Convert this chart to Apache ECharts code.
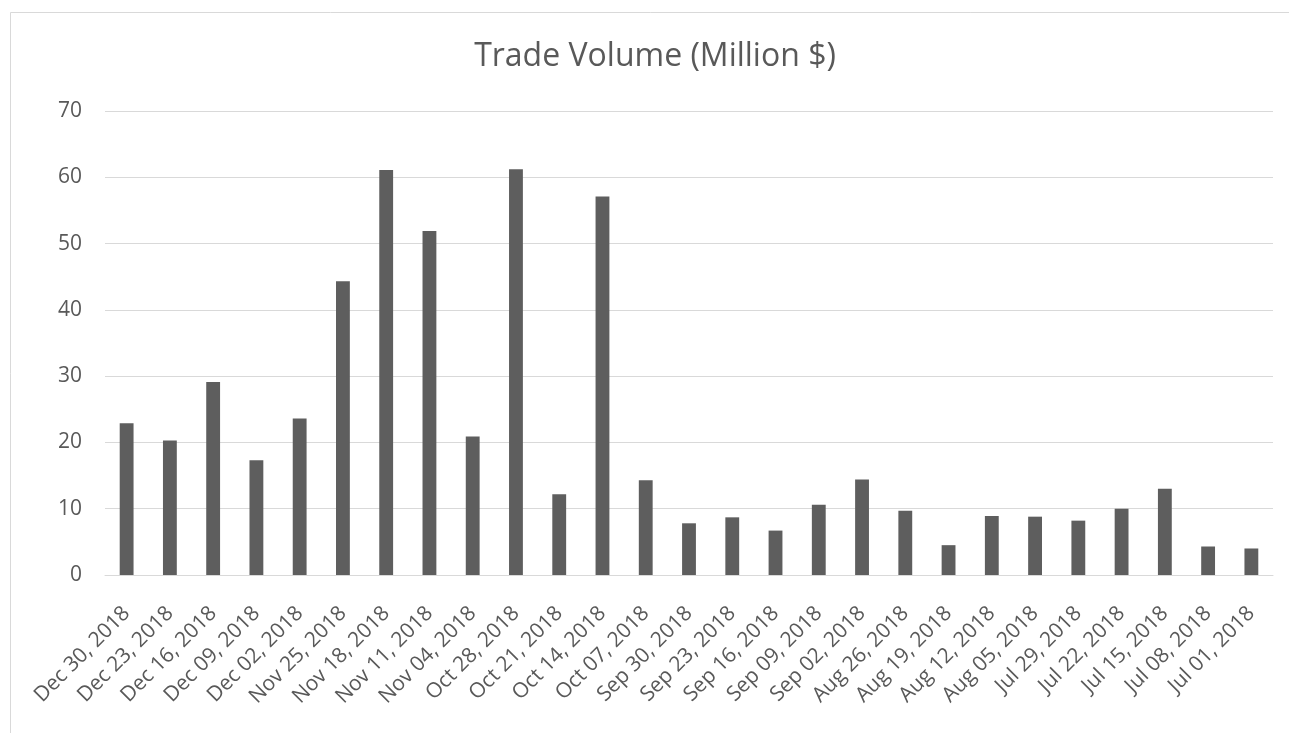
<!DOCTYPE html>
<html>
<head>
<meta charset="utf-8">
<script src="https://cdn.jsdelivr.net/npm/echarts@6/dist/echarts.min.js"></script>
<style>
html,body{margin:0;padding:0;background:#fff;}
#chart{width:1289px;height:733px;}
</style>
</head>
<body>
<div id="chart"></div>
<script>
const chartTitle = 'Trade Volume (Million $)';
const categories = ['Dec 30, 2018','Dec 23, 2018','Dec 16, 2018','Dec 09, 2018','Dec 02, 2018','Nov 25, 2018','Nov 18, 2018','Nov 11, 2018','Nov 04, 2018','Oct 28, 2018','Oct 21, 2018','Oct 14, 2018','Oct 07, 2018','Sep 30, 2018','Sep 23, 2018','Sep 16, 2018','Sep 09, 2018','Sep 02, 2018','Aug 26, 2018','Aug 19, 2018','Aug 12, 2018','Aug 05, 2018','Jul 29, 2018','Jul 22, 2018','Jul 15, 2018','Jul 08, 2018','Jul 01, 2018'];
const volumes = [22.9,20.3,29.1,17.3,23.6,44.3,61.1,51.9,20.9,61.2,12.2,57.1,14.3,7.8,8.7,6.7,10.6,14.4,9.7,4.5,8.9,8.8,8.2,10.0,13.0,4.3,4.0];
const yTicks = [0,10,20,30,40,50,60,70];

const FONT = '"Open Sans", sans-serif';
const chart = echarts.init(document.getElementById('chart'), null, {renderer:'canvas'});
chart.setOption({
  animation:false,
  backgroundColor:'#ffffff',
  graphic:[{
    type:'rect', silent:true, z:-10,
    shape:{x:10.5, y:12.5, width:1400, height:1000},
    style:{fill:'#ffffff', stroke:'#d9d9d9', lineWidth:1}
  }],
  title:{
    text:chartTitle,
    left:655, top:41, textAlign:'center', padding:0,
    textStyle:{fontFamily:FONT, fontSize:32, fontWeight:'normal', color:'#595959'}
  },
  grid:{left:105, right:16, top:111, bottom:158, containLabel:false},
  xAxis:{
    type:'category', data:categories,
    axisLine:{show:true, lineStyle:{color:'#d9d9d9', width:1}},
    axisTick:{show:false},
    axisLabel:{rotate:45, interval:0, margin:35, fontFamily:FONT, fontSize:21, color:'#595959'}
  },
  yAxis:{
    type:'value', min:yTicks[0], max:yTicks[yTicks.length-1], interval:10,
    axisLine:{show:false}, axisTick:{show:false},
    splitLine:{show:true, lineStyle:{color:'#d9d9d9', width:1}},
    axisLabel:{margin:23, fontFamily:FONT, fontSize:21, color:'#595959'}
  },
  series:[{
    type:'bar', data:volumes, barWidth:'32%',
    itemStyle:{color:'#5e5e5e'}
  }]
});
</script>
</body>
</html>
